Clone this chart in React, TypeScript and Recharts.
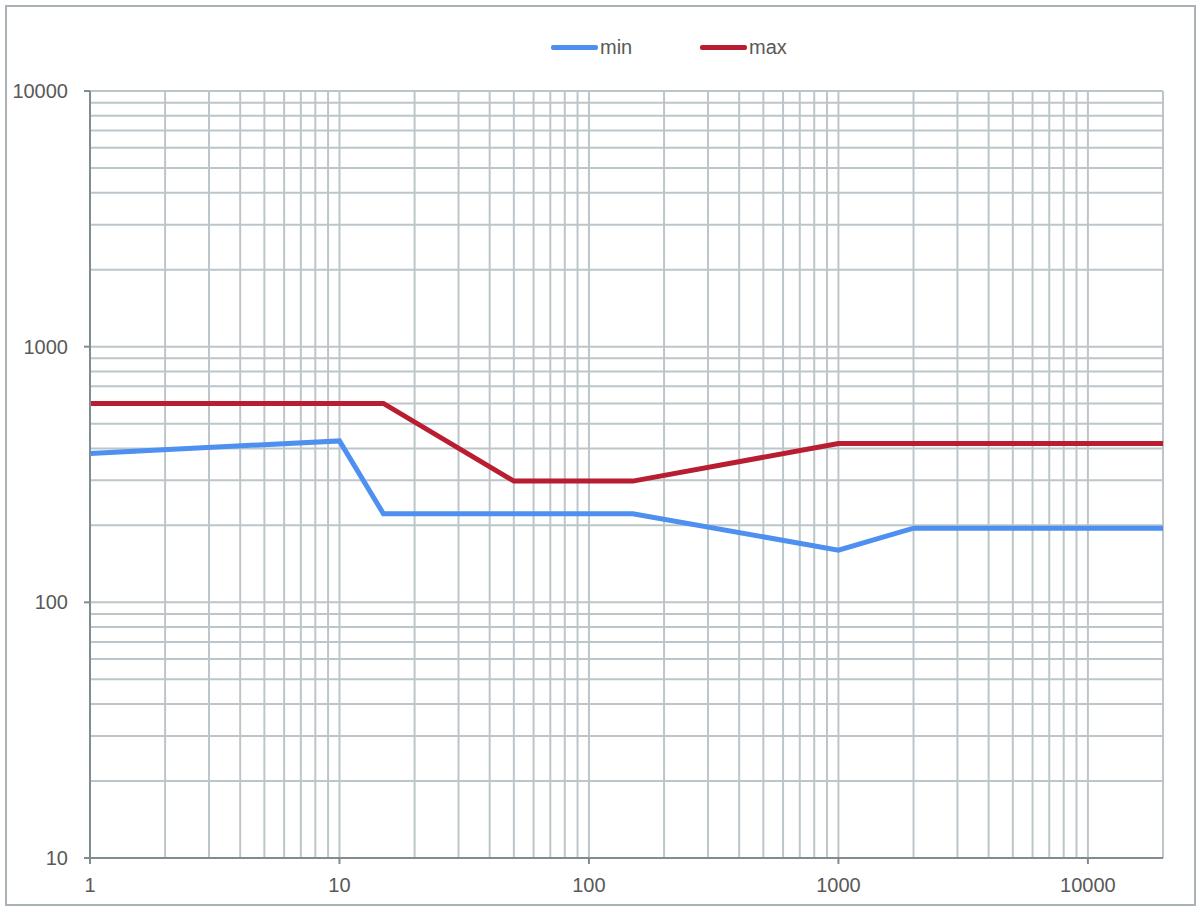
import { Line, LineChart, ReferenceLine, XAxis, YAxis } from "recharts";

const minSeries = [
  { x: 1, y: 382 },
  { x: 10, y: 428 },
  { x: 15, y: 222 },
  { x: 150, y: 222 },
  { x: 1000, y: 160 },
  { x: 2000, y: 195 },
  { x: 20000, y: 195 },
];

const maxSeries = [
  { x: 1, y: 600 },
  { x: 15, y: 600 },
  { x: 50, y: 298 },
  { x: 150, y: 298 },
  { x: 1000, y: 418 },
  { x: 20000, y: 418 },
];

const xTicks = [1, 10, 100, 1000, 10000];
const yTicks = [10, 100, 1000, 10000];

// grid values: 1..9 for each decade
const xGrid = [
  2, 3, 4, 5, 6, 7, 8, 9,
  10, 20, 30, 40, 50, 60, 70, 80, 90,
  100, 200, 300, 400, 500, 600, 700, 800, 900,
  1000, 2000, 3000, 4000, 5000, 6000, 7000, 8000, 9000,
  10000, 20000,
];
const yGrid = [
  20, 30, 40, 50, 60, 70, 80, 90,
  100, 200, 300, 400, 500, 600, 700, 800, 900,
  1000, 2000, 3000, 4000, 5000, 6000, 7000, 8000, 9000,
  10000,
];

const MIN_COLOR = "#4d90f0";
const MAX_COLOR = "#b81d31";
const GRID_COLOR = "#bcc6ca";
const AXIS_COLOR = "#7f8d93";
const TEXT_COLOR = "#595959";
const FONT = "'Liberation Sans', Arial, sans-serif";

const legendItems = [
  { name: "min", color: MIN_COLOR, left: 551 },
  { name: "max", color: MAX_COLOR, left: 700 },
];

function ChartLegend() {
  return (
    <div style={{ position: "absolute", left: 0, top: 35, fontFamily: FONT, fontSize: 20, color: TEXT_COLOR }}>
      {legendItems.map((item) => (
        <span
          key={item.name}
          style={{ position: "absolute", left: item.left, top: 0, display: "inline-flex", alignItems: "center", whiteSpace: "nowrap", lineHeight: "24px" }}
        >
          <i style={{ display: "inline-block", width: 47, height: 5, backgroundColor: item.color, borderRadius: 2, marginRight: 2 }} />
          {item.name}
        </span>
      ))}
    </div>
  );
}

export default function App() {
  return (
    <div style={{ position: "absolute", left: 0, top: 0, width: 1202, height: 912, background: "#fff" }}>
      <div
        style={{
          position: "absolute",
          left: 5,
          top: 5,
          width: 1187,
          height: 897,
          border: "2px solid #a9b3b7",
        }}
      />
      <LineChart
        width={1202}
        height={912}
        margin={{ top: 91, right: 39, bottom: 24, left: 10 }}
        style={{ position: "absolute", left: 0, top: 0, fontFamily: FONT }}
      >
        <XAxis
          type="number"
          dataKey="x"
          scale="log"
          domain={[1, 20000]}
          ticks={xTicks}
          allowDataOverflow
          height={30}
          tickSize={6}
          tickMargin={14}
          stroke={AXIS_COLOR}
          strokeWidth={2}
          tick={{ fill: TEXT_COLOR, fontSize: 20 }}
        />
        <YAxis
          type="number"
          dataKey="y"
          scale="log"
          domain={[10, 10000]}
          ticks={yTicks}
          allowDataOverflow
          width={80}
          tickSize={6}
          tickMargin={16}
          stroke={AXIS_COLOR}
          strokeWidth={2}
          tick={{ fill: TEXT_COLOR, fontSize: 20 }}
        />
        {xGrid.map((v) => (
          <ReferenceLine key={`gx-${v}`} x={v} stroke={GRID_COLOR} strokeWidth={2} />
        ))}
        {yGrid.map((v) => (
          <ReferenceLine key={`gy-${v}`} y={v} stroke={GRID_COLOR} strokeWidth={2} />
        ))}
        <Line
          data={minSeries}
          dataKey="y"
          name="min"
          type="linear"
          stroke={MIN_COLOR}
          strokeWidth={5}
          dot={false}
          isAnimationActive={false}
        />
        <Line
          data={maxSeries}
          dataKey="y"
          name="max"
          type="linear"
          stroke={MAX_COLOR}
          strokeWidth={5}
          dot={false}
          isAnimationActive={false}
        />
      </LineChart>
      <ChartLegend />
    </div>
  );
}
